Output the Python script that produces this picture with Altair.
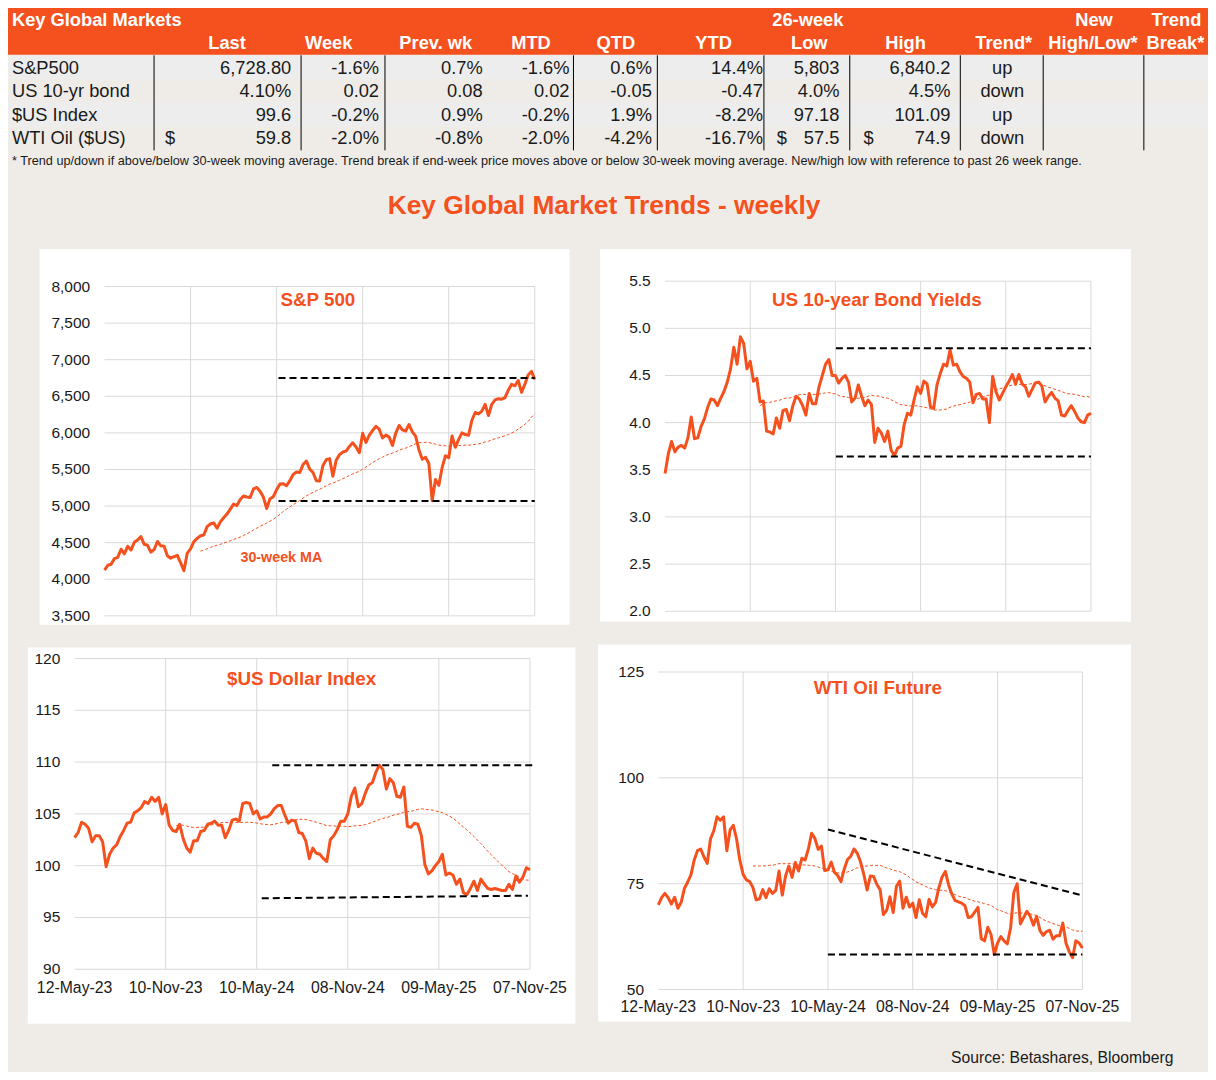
import altair as alt
import pandas as pd

# ---------------------------------------------------------------- data
WEEKS = pd.date_range("2023-05-12", "2025-11-07", freq="7D").strftime("%Y-%m-%d").tolist()

SP500 = [4124, 4192, 4205, 4282, 4299, 4410, 4348, 4450, 4399, 4505, 4536, 4582,
         4478, 4464, 4370, 4406, 4516, 4457, 4450, 4320, 4288, 4308, 4327, 4224, 4117,
         4358, 4415, 4514, 4559, 4595, 4604, 4719, 4755, 4770,
         4697, 4784, 4840, 4891, 4959, 5027, 5006, 5089, 5137, 5124, 5117, 5234, 5254,
         5204, 5123, 4967, 5100, 5128, 5223, 5303, 5305, 5278, 5347, 5432, 5465, 5460,
         5567, 5615, 5505, 5459, 5346, 5344, 5554, 5634, 5648, 5408, 5626, 5703, 5738,
         5751, 5815, 5864, 5808, 5729, 5995, 5870, 5969, 6032, 6090, 6051, 5931, 5971,
         5942, 5827, 5997, 6101, 6041, 6026, 6115, 6013, 5955, 5770, 5639, 5667, 5581,
         5074, 5363, 5283, 5525, 5687, 5660, 5958, 5803, 5912, 6000, 5977, 5968, 6173,
         6279, 6260, 6297, 6389, 6238, 6389, 6450, 6467, 6460, 6482, 6584, 6664, 6644,
         6716, 6553, 6664, 6792, 6840, 6729]

US10Y = [3.46, 3.67, 3.80, 3.69, 3.74, 3.76, 3.73, 3.84, 4.06, 3.83, 3.84, 3.96,
         4.04, 4.16, 4.25, 4.24, 4.18, 4.26, 4.33, 4.43, 4.57, 4.80, 4.62, 4.91, 4.84,
         4.57, 4.65, 4.44, 4.47, 4.22, 4.23, 3.91, 3.90, 3.88,
         4.05, 3.94, 4.13, 4.14, 4.02, 4.18, 4.28, 4.25, 4.18, 4.08, 4.31, 4.20, 4.20,
         4.38, 4.50, 4.62, 4.67, 4.50, 4.50, 4.42, 4.47, 4.50, 4.43, 4.22, 4.26, 4.40,
         4.28, 4.18, 4.24, 4.19, 3.79, 3.94, 3.89, 3.80, 3.91, 3.71, 3.65, 3.73, 3.75,
         3.98, 4.10, 4.08, 4.24, 4.38, 4.31, 4.44, 4.41, 4.17, 4.15, 4.40, 4.52, 4.62,
         4.60, 4.77, 4.61, 4.62, 4.54, 4.49, 4.47, 4.43, 4.21, 4.30, 4.31, 4.25, 4.25,
         4.00, 4.49, 4.33, 4.24, 4.31, 4.38, 4.44, 4.51, 4.41, 4.51, 4.41, 4.38, 4.28,
         4.35, 4.42, 4.43, 4.39, 4.22, 4.28, 4.32, 4.26, 4.23, 4.08, 4.07, 4.13, 4.18,
         4.12, 4.05, 4.01, 4.00, 4.08, 4.10]

DXY = [102.7, 103.2, 104.2, 104.0, 103.6, 102.3, 102.9, 102.9, 102.3, 99.9, 101.1, 101.7,
       102.0, 102.8, 103.4, 104.1, 104.2, 105.1, 105.3, 105.6, 106.2, 106.0, 106.6, 106.2, 106.6,
       105.0, 105.9, 103.9, 103.4, 103.3, 104.0, 102.6, 101.7, 101.3,
       102.4, 102.4, 103.3, 103.4, 104.0, 104.1, 104.3, 103.9, 103.9, 102.7, 103.4, 104.4, 104.5,
       104.3, 106.0, 106.1, 106.0, 105.0, 105.3, 104.5, 104.7, 104.7, 105.0, 105.5, 105.8, 105.8,
       104.9, 104.1, 104.4, 104.3, 103.2, 103.1, 102.4, 100.7, 101.7, 101.2, 101.1, 100.7, 100.4,
       102.5, 102.9, 103.5, 104.3, 104.3, 105.0, 106.7, 107.5, 105.7, 106.0, 107.0, 107.8, 108.0,
       109.0, 109.7, 109.3, 107.4, 108.4, 108.0, 106.7, 106.6, 107.6, 103.8, 103.7, 104.1, 104.0,
       102.9, 100.1, 99.2, 99.5, 100.0, 100.4, 101.1, 99.1, 99.3, 99.1, 98.2, 98.7, 97.4,
       97.2, 97.8, 98.5, 97.6, 98.7, 98.2, 97.8, 97.7, 97.8, 97.7, 97.6, 97.6, 98.2,
       97.7, 99.0, 98.4, 98.9, 99.8, 99.6]

WTI = [70.0, 71.7, 72.7, 71.7, 70.2, 71.8, 69.2, 70.6, 73.9, 75.4, 77.1, 80.6,
       82.8, 83.2, 81.3, 79.8, 85.6, 87.5, 90.8, 90.0, 90.8, 82.8, 87.7, 88.8, 85.5,
       80.5, 77.2, 75.9, 75.5, 74.1, 71.2, 71.4, 73.6, 71.7,
       73.8, 72.7, 73.4, 78.0, 72.3, 76.8, 79.2, 76.5, 80.0, 78.0, 81.0, 80.6, 83.2,
       86.9, 85.7, 83.1, 83.9, 78.1, 78.3, 80.1, 77.7, 76.9, 75.5, 78.5, 80.7, 81.5,
       83.2, 82.2, 80.1, 77.2, 73.5, 76.8, 76.7, 74.8, 73.6, 67.7, 68.7, 71.9, 68.2,
       74.4, 75.6, 69.2, 71.8, 69.5, 70.4, 67.0, 71.2, 68.0, 67.2, 71.3, 69.5, 70.6,
       74.0, 76.6, 77.9, 74.7, 72.5, 71.0, 70.7, 70.4, 69.8, 67.0, 67.2, 68.3, 69.4,
       62.0, 61.5, 64.7, 63.0, 58.3, 61.0, 62.5, 61.5, 60.8, 64.6, 73.0, 75.0, 65.5,
       67.0, 68.5, 67.3, 65.2, 67.3, 63.9, 62.8, 63.7, 64.0, 61.9, 62.7, 62.7, 65.7,
       60.9, 58.9, 57.5, 61.5, 61.0, 59.8]

# 26-week high / low reference lines: (start, end, value at start, value at end)
SP_LINES = [("2024-05-14", "2025-11-07", 6750, 6750), ("2024-05-14", "2025-11-07", 5070, 5070)]
BOND_LINES = [("2024-05-11", "2025-11-07", 4.79, 4.79), ("2024-05-11", "2025-11-07", 3.64, 3.64)]
DXY_LINES = [("2024-06-10", "2025-11-14", 109.7, 109.7), ("2024-05-20", "2025-11-03", 96.85, 97.1)]
WTI_LINES = [("2024-05-10", "2025-11-07", 87.8, 72.2), ("2024-05-10", "2025-11-07", 58.3, 58.3)]

X_TICK_DATES = ["2023-05-12", "2023-11-10", "2024-05-10", "2024-11-08", "2025-05-09", "2025-11-07"]
X_TICK_LABELS = ["12-May-23", "10-Nov-23", "10-May-24", "08-Nov-24", "09-May-25", "07-Nov-25"]
SP_TICKS = [3500, 4000, 4500, 5000, 5500, 6000, 6500, 7000, 7500, 8000]
BOND_TICKS = [2.0, 2.5, 3.0, 3.5, 4.0, 4.5, 5.0, 5.5]
DXY_TICKS = [90, 95, 100, 105, 110, 115, 120]
WTI_TICKS = [50, 75, 100, 125]

# table
ROW_NAMES = ["S&P500", "US 10-yr bond", "$US Index", "WTI Oil ($US)"]
LAST = ["6,728.80", "4.10%", "99.6", "59.8"]
WEEK = ["-1.6%", "0.02", "-0.2%", "-2.0%"]
PREV_WK = ["0.7%", "0.08", "0.9%", "-0.8%"]
MTD = ["-1.6%", "0.02", "-0.2%", "-2.0%"]
QTD = ["0.6%", "-0.05", "1.9%", "-4.2%"]
YTD = ["14.4%", "-0.47", "-8.2%", "-16.7%"]
LOW_26W = ["5,803", "4.0%", "97.18", "57.5"]
HIGH_26W = ["6,840.2", "4.5%", "101.09", "74.9"]
TREND = ["up", "down", "up", "down"]
DOLLAR_ROW = [False, False, False, True]
HEADER_TOP = ["26-week", "New", "Trend"]
HEADER_BOTTOM = ["Last", "Week", "Prev. wk", "MTD", "QTD", "YTD", "Low", "High", "Trend*", "High/Low*", "Break*"]

FOOTNOTE = ("*  Trend up/down if above/below 30-week moving average. Trend break if end-week price "
            "moves above or below 30-week moving average.  New/high low with reference to past 26 week range.")
TITLE = "Key Global Market Trends - weekly"
SOURCE = "Source:  Betashares, Bloomberg"

# ---------------------------------------------------------------- layout / style
ORANGE = "#F4511E"
BG = "#EFECE8"
STRIPE = "#EDEDED"
GRID = "#D9D9D9"
INK = "#1A1A1A"
FONT = "Liberation Sans"
W, H = 1200, 1064
REF_W, REF_H = 1216, 1080
SX, SY = W / REF_W, H / REF_H

HEADER_TOP_X = [810.5, 1100.5, 1184]
HEADER_BOTTOM_X = [222, 325, 433.5, 530, 616, 715, 812, 909.5, 1009, 1099.5, 1183]
VALUE_RIGHT_X = [287, 376, 481, 569, 652.5, 765, 842.5, 955]
DOLLAR_X = [159, 779, 867]
TREND_X = 1007.5
ROW_Y = [61.5, 85.5, 109.3, 133.3]
TABLE_VLINES = [148, 297, 382, 573, 658, 766, 853, 965, 1049, 1151]


def ms(s):
    return int(pd.Timestamp(s, tz="UTC").timestamp() * 1000)


LX = alt.Scale(domain=[0, REF_W], range=[0, W], nice=False, zero=False)
LY = alt.Scale(domain=[0, REF_H], range=[0, H], nice=False, zero=False)


def lx(f):
    return alt.X(f, type="quantitative", scale=LX, axis=None)


def ly(f):
    return alt.Y(f, type="quantitative", scale=LY, axis=None)


def ltext(rows, **kw):
    style = dict(font=FONT, baseline="middle", color=INK)
    style.update(kw)
    return alt.Chart(pd.DataFrame(rows)).mark_text(**style).encode(
        x=lx("x"), y=ly("y"), text="t:N")


# background boxes
rects = pd.DataFrame([
    dict(x=0, x2=REF_W, y=0, y2=47.5, c=ORANGE),
    dict(x=0, x2=REF_W, y=48, y2=72, c=STRIPE),
    dict(x=0, x2=REF_W, y=96, y2=120, c=STRIPE),
    dict(x=32, x2=569, y=245, y2=626, c="white"),
    dict(x=600, x2=1138, y=245, y2=623, c="white"),
    dict(x=20, x2=575, y=649, y2=1031, c="white"),
    dict(x=598, x2=1138, y=646, y2=1029, c="white"),
])
rect_layer = alt.Chart(rects).mark_rect().encode(
    x=lx("x"), x2=alt.X2("x2"), y=ly("y"), y2=alt.Y2("y2"),
    color=alt.Color("c:N", scale=None))

vlines = pd.DataFrame({"x": TABLE_VLINES, "y": 48, "y2": 144.5})
vline_layer = alt.Chart(vlines).mark_rule(color="black", strokeWidth=1).encode(
    x=lx("x"), y=ly("y"), y2=alt.Y2("y2"))

# table texts
hdr_rows = [dict(x=x, y=13.3, t=t) for x, t in zip(HEADER_TOP_X, HEADER_TOP)]
hdr_rows += [dict(x=x, y=36.7, t=t) for x, t in zip(HEADER_BOTTOM_X, HEADER_BOTTOM)]
val_rows = []
for col, xr in zip([LAST, WEEK, PREV_WK, MTD, QTD, YTD, LOW_26W, HIGH_26W], VALUE_RIGHT_X):
    for ry, v in zip(ROW_Y, col):
        val_rows.append(dict(x=xr, y=ry, t=v))
left_rows = [dict(x=4, y=ry, t=n) for ry, n in zip(ROW_Y, ROW_NAMES)]
for ry, flag in zip(ROW_Y, DOLLAR_ROW):
    if flag:
        left_rows += [dict(x=dx, y=ry, t="$") for dx in DOLLAR_X]
trend_rows = [dict(x=TREND_X, y=ry, t=t) for ry, t in zip(ROW_Y, TREND)]

layout_under = alt.layer(
    rect_layer,
    vline_layer,
    ltext([dict(x=4, y=13.3, t="Key Global Markets")], align="left", fontWeight="bold",
          fontSize=18.3, color="white"),
    ltext(hdr_rows, align="center", fontWeight="bold", fontSize=18.3, color="white"),
    ltext(val_rows, align="right", fontSize=18.3),
    ltext(left_rows, align="left", fontSize=18.3),
    ltext(trend_rows, align="center", fontSize=18.3),
    ltext([dict(x=4, y=155, t=FOOTNOTE)], align="left", fontSize=12.7),
    ltext([dict(x=604, y=201, t=TITLE)], align="center", fontWeight="bold", fontSize=26.3,
          color=ORANGE),
    ltext([dict(x=1181, y=1066, t=SOURCE)], align="right", fontSize=15.7),
)

layout_over = alt.layer(
    ltext([dict(x=314, y=296.3, t="S&P 500"),
           dict(x=880.4, y=296.7, t="US 10-year Bond Yields"),
           dict(x=297.5, y=681, t="$US Dollar Index"),
           dict(x=881.4, y=690.3, t="WTI Oil Future")],
          align="center", fontWeight="bold", fontSize=18.8, color=ORANGE),
    ltext([dict(x=277, y=558, t="30-week MA")], align="center", fontWeight="bold",
          fontSize=14.3, color=ORANGE),
)


def panel(values, ticks, fmt, box, dom, lines, date_labels=False, label_dy=19.0):
    x0, x1, ytop, ybot = box
    xs = alt.Scale(type="utc", domain=[ms(WEEKS[0]), ms(WEEKS[-1])], range=[x0 * SX, x1 * SX])
    ys = alt.Scale(domain=dom, range=[ybot * SY, ytop * SY], nice=False, zero=False)

    def X(f):
        return alt.X(f, type="temporal", scale=xs, axis=None)

    def Y(f):
        return alt.Y(f, type="quantitative", scale=ys, axis=None)

    data = pd.DataFrame({"t": [ms(d) for d in WEEKS], "v": values})
    hgrid = pd.DataFrame({"a": ms(WEEKS[0]), "b": ms(WEEKS[-1]), "v": ticks})
    vgrid = pd.DataFrame({"d": [ms(d) for d in X_TICK_DATES[1:]], "lo": dom[0], "hi": dom[1]})
    ylab = pd.DataFrame({"d": ms(WEEKS[0]), "v": ticks})
    seg = pd.DataFrame([dict(a=ms(a), b=ms(b), v1=v1, v2=v2) for a, b, v1, v2 in lines])

    layers = [
        alt.Chart(hgrid).mark_rule(color=GRID, strokeWidth=1).encode(
            x=X("a"), x2=alt.X2("b"), y=Y("v")),
        alt.Chart(vgrid).mark_rule(color=GRID, strokeWidth=1).encode(
            x=X("d"), y=Y("lo"), y2=alt.Y2("hi")),
        alt.Chart(ylab).mark_text(align="right", baseline="middle", dx=-14.3, fontSize=15.5,
                                  font=FONT, color=INK).encode(
            x=X("d"), y=Y("v"), text=alt.Text("v:Q", format=fmt)),
    ]
    if date_labels:
        xlab = pd.DataFrame({"d": [ms(d) for d in X_TICK_DATES], "lab": X_TICK_LABELS,
                             "v": dom[0]})
        layers.append(
            alt.Chart(xlab).mark_text(align="center", baseline="middle", dy=label_dy,
                                      fontSize=15.8, font=FONT, color=INK).encode(
                x=X("d"), y=Y("v"), text="lab:N"))
    layers += [
        alt.Chart(data).transform_window(
            ma="mean(v)", n="count()", frame=[-29, 0], sort=[alt.SortField("t")]
        ).transform_filter("datum.n >= 30").mark_line(
            color=ORANGE, strokeWidth=1, strokeDash=[3, 2]).encode(x=X("t"), y=Y("ma")),
        alt.Chart(data).mark_line(color=ORANGE, strokeWidth=3, strokeJoin="round").encode(
            x=X("t"), y=Y("v")),
        alt.Chart(seg).mark_rule(color="black", strokeWidth=2, strokeDash=[7, 4]).encode(
            x=X("a"), x2=alt.X2("b"), y=Y("v1"), y2=alt.Y2("v2")),
    ]
    return alt.layer(*layers)


sp = panel(SP500, SP_TICKS, ",", (97.8, 533.8, 282.7, 617.0), [3500, 8000], SP_LINES)
bond = panel(US10Y, BOND_TICKS, ".1f", (665.8, 1097.4, 277.3, 612.3), [2.0, 5.5], BOND_LINES)
dxy = panel(DXY, DXY_TICKS, "d", (67.5, 528.9, 660.3, 975.7), [90, 120], DXY_LINES,
            date_labels=True, label_dy=18.7)
wti = panel(WTI, WTI_TICKS, "d", (659.0, 1088.7, 674.0, 996.3), [50, 125], WTI_LINES,
            date_labels=True, label_dy=17.6)

chart = alt.layer(layout_under, sp, bond, dxy, wti, layout_over).resolve_scale(
    x="independent", y="independent"
).properties(
    width=W, height=H, autosize=alt.AutoSizeParams(type="none"), padding=0, background=BG
).configure_view(stroke="transparent")

chart.save("out.html", embed_options={"renderer": "svg", "actions": False})
